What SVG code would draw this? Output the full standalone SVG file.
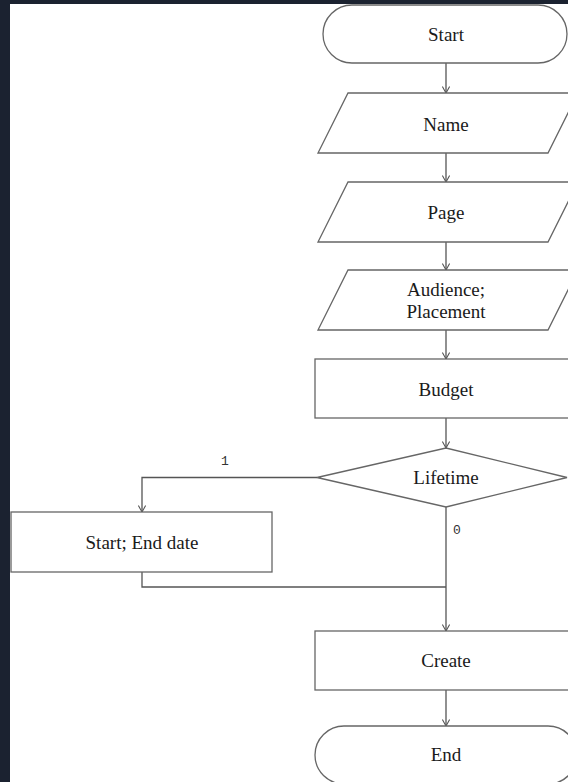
<svg xmlns="http://www.w3.org/2000/svg" width="568" height="782" viewBox="0 0 568 782">
<defs>
<style>
.bg{fill:#1b2230}
.shape{fill:#ffffff;stroke:#666666;stroke-width:1.3}
.t{font-family:"Liberation Serif","Times New Roman",serif;font-size:19px;fill:#1a1a1a;text-anchor:middle;dominant-baseline:central}
.lbl{font-family:"Liberation Mono","Courier New",monospace;font-size:13px;fill:#333333;text-anchor:middle;dominant-baseline:central}
.c{fill:none;stroke:#555555;stroke-width:1.3}
</style>
<marker id="arr" viewBox="0 0 10 10" refX="9" refY="5" markerWidth="8" markerHeight="8" markerUnits="userSpaceOnUse" orient="auto">
<path d="M1,0.5 L9,5 L1,9.5" fill="none" stroke="#555555" stroke-width="1.3"/>
</marker>
</defs>
<rect class="bg" x="0" y="0" width="568" height="782"/>
<rect x="10" y="4" width="558" height="778" fill="#ffffff"/>

<g id="connectors">
<path class="c" d="M446,63 V93" marker-end="url(#arr)"/>
<path class="c" d="M446,153 V182" marker-end="url(#arr)"/>
<path class="c" d="M446,242 V270" marker-end="url(#arr)"/>
<path class="c" d="M446,330 V359" marker-end="url(#arr)"/>
<path class="c" d="M446,418 V448" marker-end="url(#arr)"/>
<path class="c" d="M317,477.5 H142 V512" marker-end="url(#arr)"/>
<path class="c" d="M446,507 V631" marker-end="url(#arr)"/>
<path class="c" d="M142,572 V587 H446"/>
<path class="c" d="M446,690 V726" marker-end="url(#arr)"/>
<text class="lbl" x="225" y="461">1</text>
<text class="lbl" x="457" y="530">0</text>
</g>

<g id="start">
<rect class="shape" x="323" y="5" width="244" height="58" rx="29" ry="29"/>
<text class="t" x="446" y="34">Start</text>
</g>
<g id="name">
<polygon class="shape" points="348,93 578,93 548,153 318,153"/>
<text class="t" x="446" y="124">Name</text>
</g>
<g id="page">
<polygon class="shape" points="348,182 578,182 548,242 318,242"/>
<text class="t" x="446" y="212">Page</text>
</g>
<g id="audience">
<polygon class="shape" points="348,270 578,270 548,330 318,330"/>
<text class="t" x="446" y="289">Audience;</text>
<text class="t" x="446" y="311">Placement</text>
</g>
<g id="budget">
<rect class="shape" x="315" y="359" width="265" height="59"/>
<text class="t" x="446" y="389">Budget</text>
</g>
<g id="lifetime">
<polygon class="shape" points="317,477.5 446,448 567,477.5 446,507"/>
<text class="t" x="446" y="477">Lifetime</text>
</g>
<g id="dates">
<rect class="shape" x="11" y="512" width="261" height="60"/>
<text class="t" x="142" y="542">Start; End date</text>
</g>
<g id="create">
<rect class="shape" x="315" y="631" width="265" height="59"/>
<text class="t" x="446" y="660">Create</text>
</g>
<g id="end">
<rect class="shape" x="315" y="726" width="262" height="58" rx="29" ry="29"/>
<text class="t" x="446" y="754">End</text>
</g>
</svg>
